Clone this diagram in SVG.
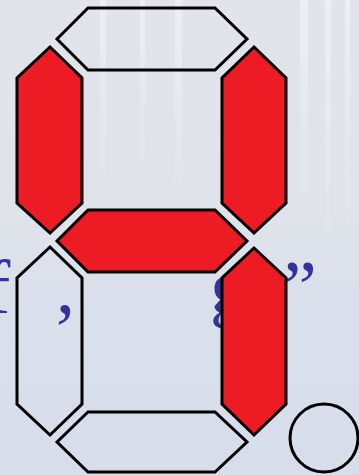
<svg xmlns="http://www.w3.org/2000/svg" width="359" height="475" viewBox="0 0 359 475">
<defs>
<linearGradient id="bg" x1="0" y1="0" x2="0" y2="1">
<stop offset="0" stop-color="#e2e4ea"/>
<stop offset="0.45" stop-color="#e0e3ea"/>
<stop offset="0.65" stop-color="#d9dfeb"/>
<stop offset="1" stop-color="#d7ddea"/>
</linearGradient>
<linearGradient id="streak" x1="0" y1="0" x2="0" y2="1">
<stop offset="0" stop-color="#ffffff" stop-opacity="0.6"/>
<stop offset="1" stop-color="#ffffff" stop-opacity="0"/>
</linearGradient>
<style>
.seg{stroke:#000;stroke-width:3;stroke-linejoin:miter}
.on{fill:#ed1c24}
.off{fill:none}
.lbl{font-family:"Liberation Serif","Times New Roman",serif;font-size:76px;fill:#333399}
</style>
</defs>
<rect width="359" height="475" fill="url(#bg)"/>
<g opacity="0.7">
<rect x="100" y="0" width="6" height="200" fill="url(#streak)"/>
<rect x="140" y="0" width="5" height="190" fill="url(#streak)"/>
<rect x="175" y="0" width="7" height="210" fill="url(#streak)"/>
<rect x="300" y="0" width="8" height="230" fill="url(#streak)"/>
<rect x="325" y="0" width="6" height="260" fill="url(#streak)"/>
<rect x="345" y="0" width="5" height="250" fill="url(#streak)"/>
</g>
<g id="text">
<text class="lbl" x="-15" y="313">f</text>
<text class="lbl" x="56" y="313">,</text>
<text class="lbl" x="210" y="313">g</text>
<text class="lbl" x="283" y="313">”</text>
</g>
<g id="seg-a"><polygon class="seg off" points="57,39 88,8 215,8 247,39 215,70 88,70"/></g>
<g id="seg-f"><polygon class="seg on" points="50,47 82,78 82,203 50,233 17,203 17,78"/></g>
<g id="seg-b"><polygon class="seg on" points="254,47 286,78 286,203 254,233 222,203 222,78"/></g>
<g id="seg-g"><polygon class="seg on" points="57,241 88,210 215,210 247,241 215,272 88,272"/></g>
<g id="seg-e"><polygon class="seg off" points="50,247 82,278 82,404 50,435 17,404 17,278"/></g>
<g id="seg-c"><polygon class="seg on" points="254,248 286,278 286,404 254,435 222,404 222,278"/></g>
<g id="seg-d"><polygon class="seg off" points="57,442 88,412 215,412 247,442 215,472 88,472"/></g>
<g id="seg-dp"><circle class="seg off" cx="324" cy="438" r="34"/></g>
</svg>
